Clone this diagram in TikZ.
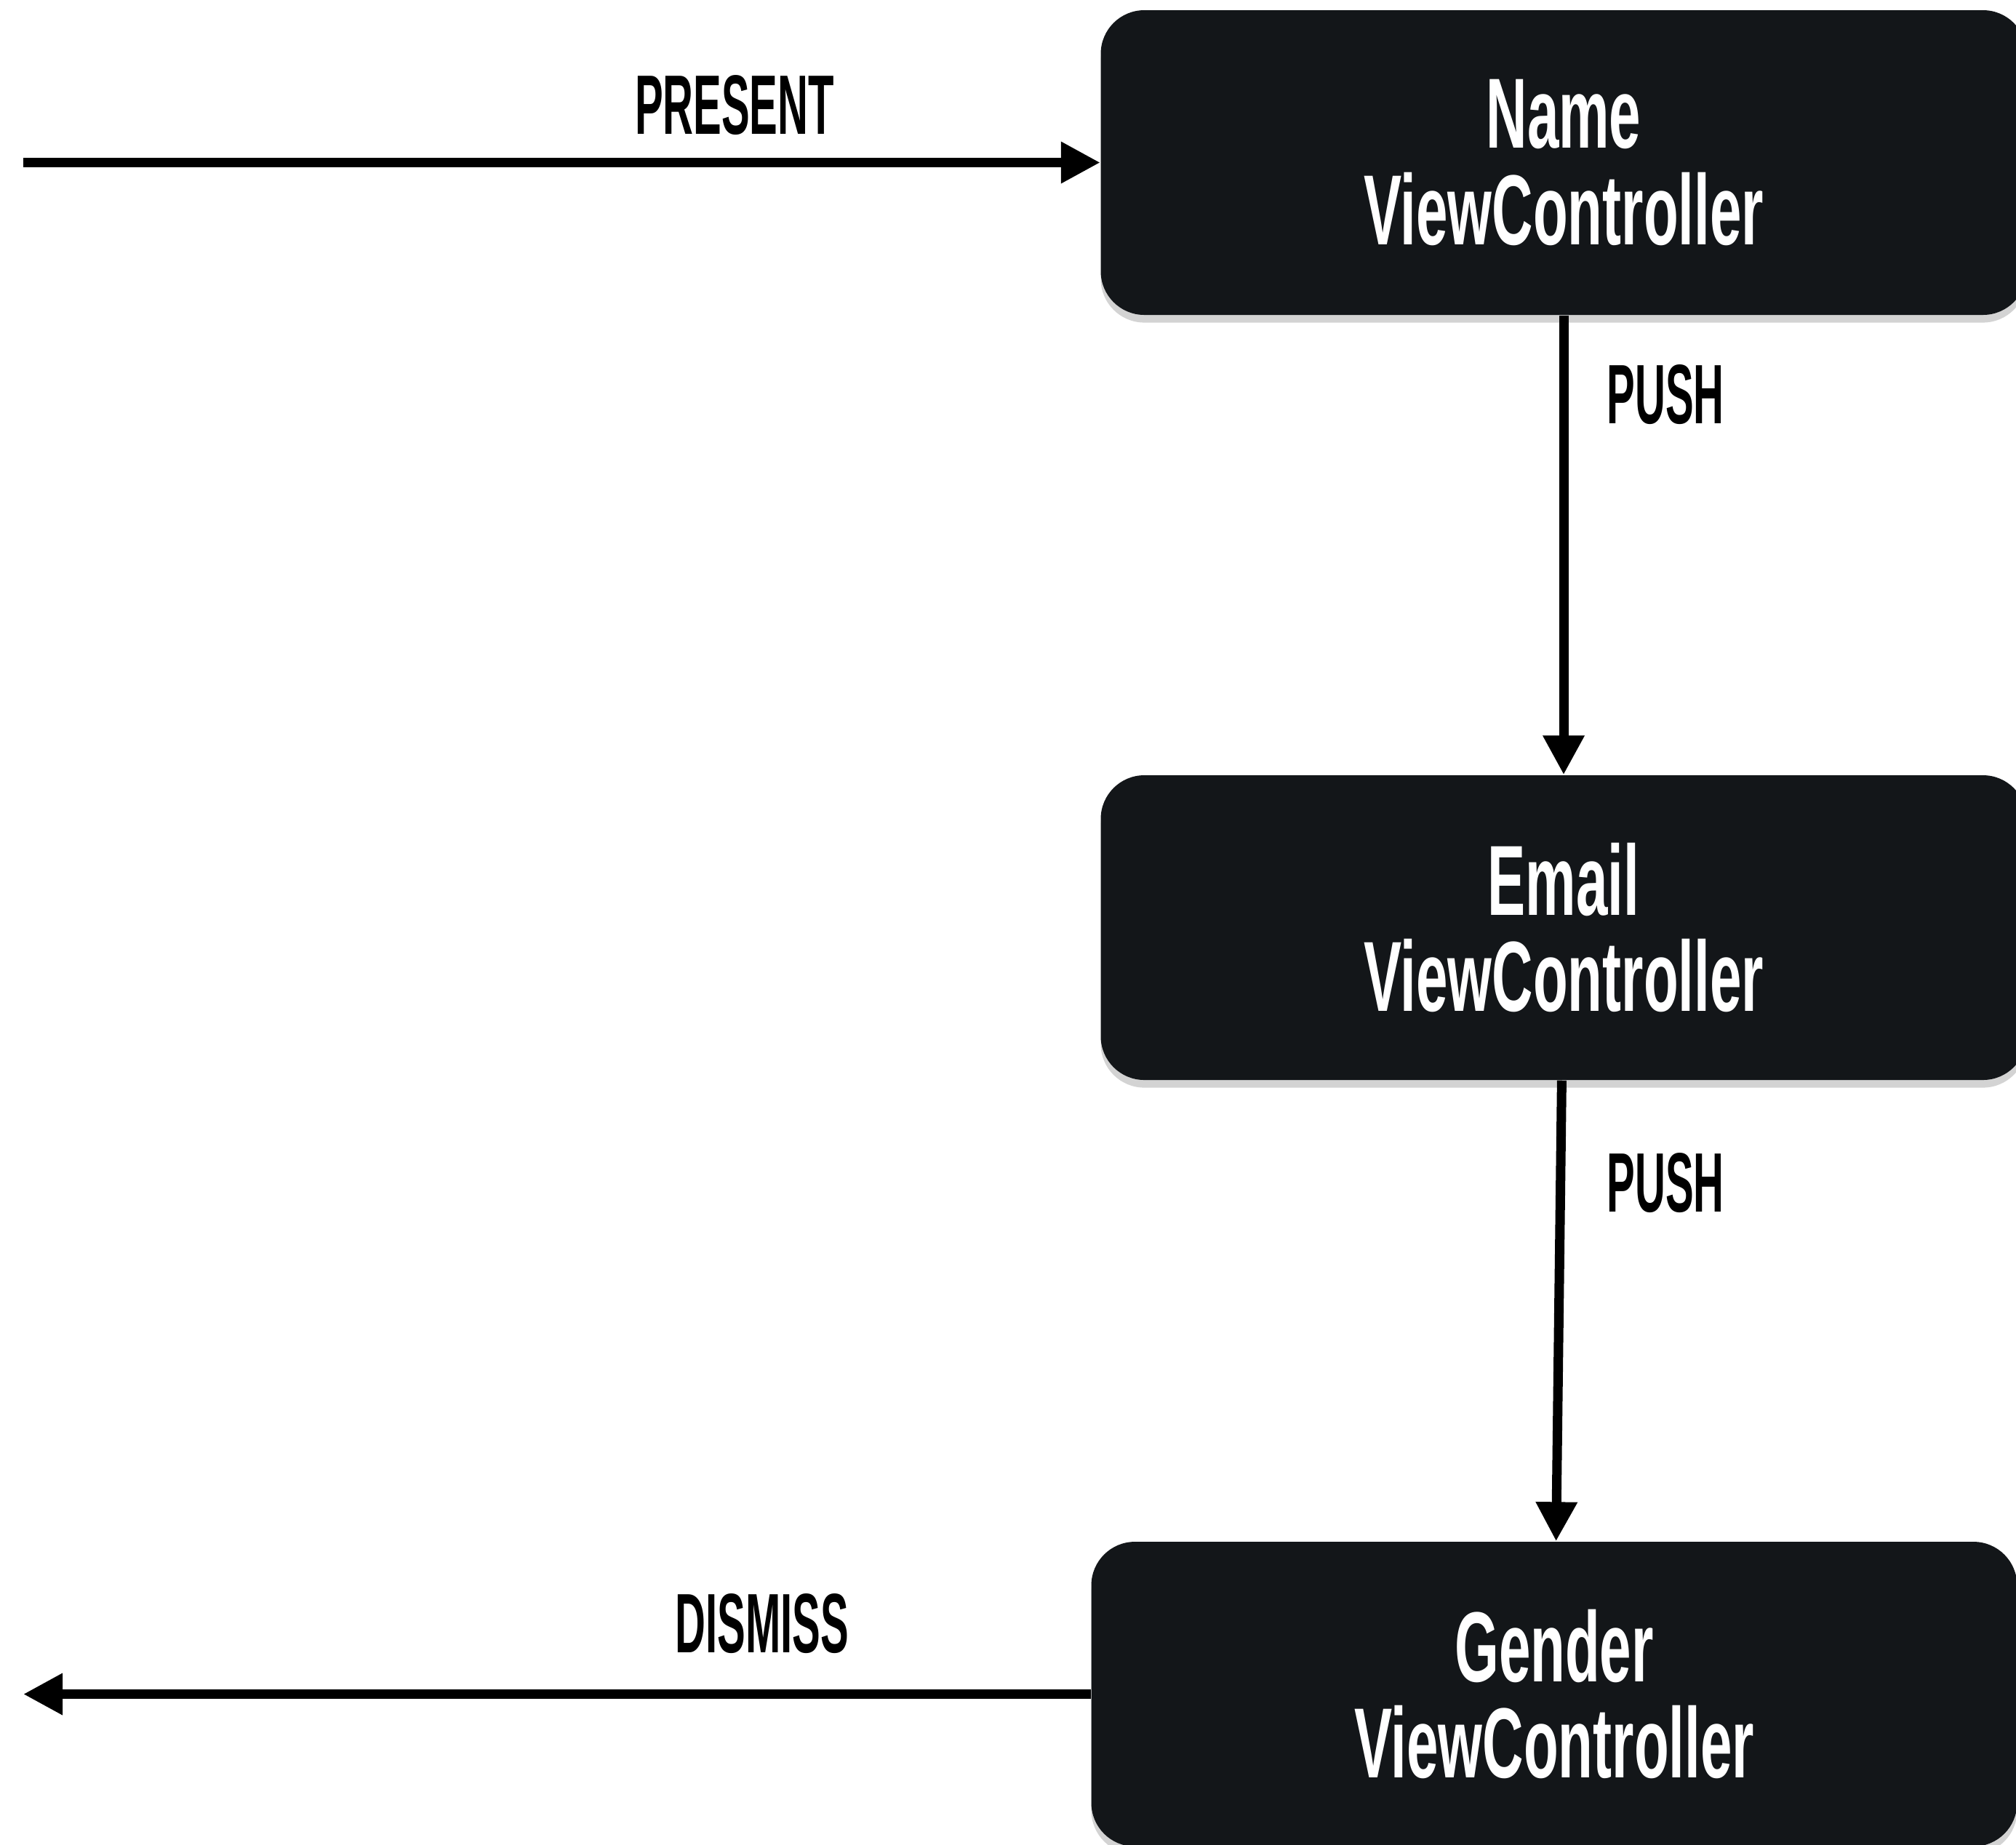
\documentclass[tikz,border=0pt]{standalone}
\usepackage{fontspec}
\usetikzlibrary{arrows.meta,shadows}
\newfontfamily\vcfont{Liberation Sans}[FakeStretch=0.57]
\newfontfamily\lblfont{Liberation Sans}[FakeStretch=0.5]
\definecolor{vcblack}{RGB}{19,22,25}
\tikzset{
  vc/.style={rectangle, rounded corners=0.6cm, fill=vcblack, text=white, align=center,
    minimum width=12.73cm, minimum height=4.19cm,
    font=\vcfont\bfseries\fontsize{39}{37.8}\selectfont,
    drop shadow={shadow xshift=0pt, shadow yshift=-3pt, opacity=0.35}},
  lbl/.style={font=\lblfont\bfseries\fontsize{33}{36}\selectfont},
  flow/.style={line width=0.13cm, -{Triangle[length=0.54cm,width=0.54cm]}}
}
\begin{document}
\begin{tikzpicture}
\useasboundingbox (0,0) rectangle (27.72,-25.36);
\clip (0,0) rectangle (27.72,-25.36);
\node[vc] (name) at (21.50,-2.235) {Name\\ViewController};
\node[vc] (email) at (21.50,-12.755) {Email\\ViewController};
\node[vc] (gender) at (21.37,-23.295) {Gender\\ViewController};
\coordinate (start) at (0.32,-2.235);
\coordinate (stop) at (0.32,-23.295);
\draw[flow] (start) -- (name);
\draw[flow] (name) -- (email);
\draw[flow] (email) -- (gender);
\draw[flow] (gender) -- (stop);
\node[lbl] (present) at (10.10,-1.45) {PRESENT};
\node[lbl] (push1) at (22.90,-5.43) {PUSH};
\node[lbl] (push2) at (22.90,-16.27) {PUSH};
\node[lbl] (dismiss) at (10.48,-22.33) {DISMISS};
\end{tikzpicture}
\end{document}
